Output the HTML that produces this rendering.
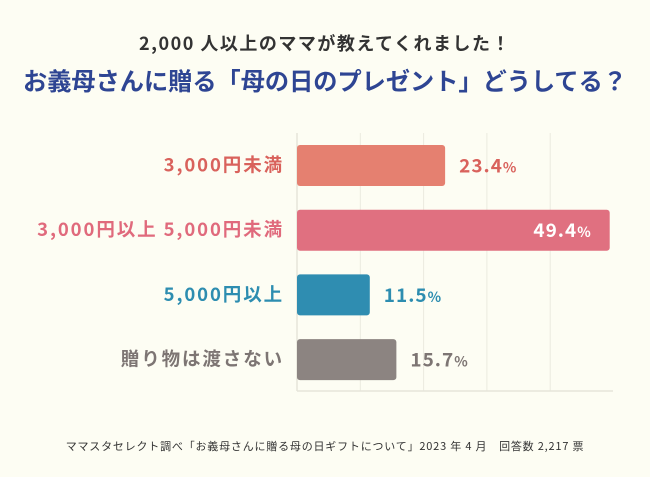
<!DOCTYPE html>
<html><head><meta charset="utf-8">
<style>
html,body{margin:0;padding:0;background:#fdfdf3;}
body{width:650px;height:477px;position:relative;overflow:hidden;font-family:"Noto Sans CJK JP","Liberation Sans",sans-serif;}
.t{position:absolute;left:0;width:650px;text-align:center;font-weight:bold;white-space:nowrap;}
</style></head><body>
<div class="t" style="top:30px;font-size:18px;line-height:26px;color:#333;letter-spacing:1.5px;">2,000 人以上のママが教えてくれました！</div>
<div class="t" style="top:63px;font-size:24.2px;line-height:34px;color:#2e4593;">お義母さんに贈る「母の日のプレゼント」どうしてる？</div>
<svg id="chart" width="650" height="477" style="position:absolute;left:0;top:0;font-family:'Noto Sans CJK JP','Liberation Sans',sans-serif;"></svg>
<div class="t" style="top:438px;font-size:11px;line-height:16px;font-weight:normal;color:#333;letter-spacing:0.8px;">ママスタセレクト調べ「お義母さんに贈る母の日ギフトについて」2023 年 4 月　回答数 2,217 票</div>
<script>
const categories=["3,000円未満","3,000円以上 5,000円未満","5,000円以上","贈り物は渡さない"];
const values=[23.4,49.4,11.5,15.7];
const colors=["#e58070","#e07080","#2f8db1","#8c8481"];
const labelColors=["#d9625c","#e06a7c","#2d8db0","#7d7573"];
const gridTicks=[10,20,30,40];
const NS="http://www.w3.org/2000/svg";
const svg=document.getElementById('chart');
const x0=297, pxPer=6.33, yTop=133, band=64.7, barH=41;
const xs=v=>x0+v*pxPer;
const yc=i=>yTop+32.5+i*band;
function mk(t,a){const e=document.createElementNS(NS,t);for(const k in a)e.setAttribute(k,a[k]);svg.appendChild(e);return e;}
gridTicks.forEach(t=>{
  const l=mk('line',{x1:xs(t),x2:xs(t),y1:yTop,y2:391,stroke:'#ebeadf','stroke-width':1});
  
  
});
const ax=mk('line',{x1:x0,x2:x0,y1:yTop,y2:391,stroke:'#e6e5da','stroke-width':1.5});


const bx=mk('line',{x1:x0,x2:613,y1:391,y2:391,stroke:'#e6e5da','stroke-width':1.5});


values.forEach((v,i)=>{
  const r=mk('rect',{x:x0,y:yc(i)-barH/2,width:xs(v)-x0,height:barH,rx:3,fill:colors[i]});
  
  
  const lab=mk('text',{x:284,y:yc(i)+6,'text-anchor':'end','font-size':18.5,'font-weight':'bold',fill:labelColors[i],'letter-spacing':1.9});
  lab.textContent=categories[i];
  
  
  const inside=v>40;
  const vt=mk('text',{x:inside?xs(v)-18:xs(v)+14,y:yc(i)+7,'text-anchor':inside?'end':'start','font-size':19,'font-weight':'bold',fill:inside?'#fff':labelColors[i],'letter-spacing':1});
  vt.textContent=v.toFixed(1);
  const ts=document.createElementNS(NS,'tspan');ts.setAttribute('font-size',14);ts.textContent='%';vt.appendChild(ts);
  
  
});
</script>
</body></html>
